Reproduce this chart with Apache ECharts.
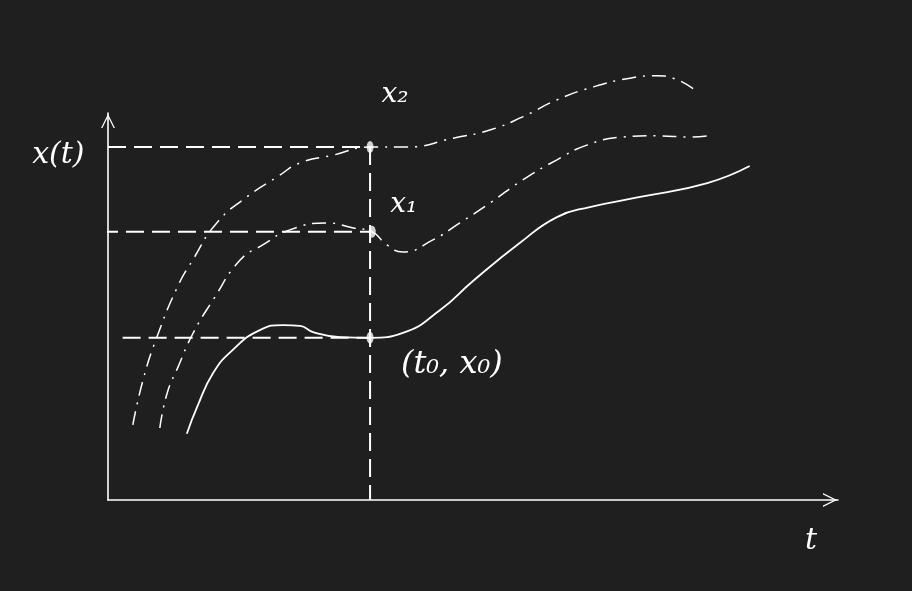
<!DOCTYPE html>
<html>
<head>
<meta charset="utf-8">
<script src="https://cdn.jsdelivr.net/npm/echarts@6/dist/echarts.min.js"></script>
<style>
html,body{margin:0;padding:0;background:#1f1f1f;}
#chart{width:912px;height:591px;}
</style>
</head>
<body>
<div id="chart"></div>
<script>
// ---- data (t, x) ----
var curveX0 = [[1.08,1.71],[1.22,2.40],[1.44,3.28],[1.71,3.88],[2.08,4.39],[2.40,4.52],[2.63,4.50],[2.81,4.34],[3.18,4.21],[3.59,4.19],[4.04,4.32],[4.55,4.91],[5.00,5.66],[5.64,6.64],[6.15,7.31],[6.60,7.57],[7.29,7.83],[8.21,8.19],[8.79,8.63]];
var curveX1 = [[0.71,1.86],[0.81,2.76],[0.96,3.44],[1.16,4.29],[1.44,5.17],[1.81,6.20],[2.12,6.59],[2.49,6.98],[3.00,7.16],[3.36,7.03],[3.62,6.93],[3.82,6.59],[4.04,6.41],[4.45,6.72],[4.82,7.16],[5.23,7.67],[5.68,8.27],[6.15,8.79],[6.56,9.17],[7.05,9.38],[7.52,9.41],[7.97,9.38],[8.29,9.43]];
var curveX2 = [[0.34,1.94],[0.48,3.10],[0.67,4.21],[0.95,5.50],[1.16,6.20],[1.49,7.16],[1.90,7.83],[2.32,8.35],[2.63,8.71],[3.08,8.91],[3.59,9.12],[4.10,9.12],[4.73,9.35],[5.23,9.56],[5.68,9.90],[6.15,10.34],[6.64,10.67],[7.15,10.90],[7.52,10.96],[7.74,10.90],[8.08,10.54]];
var t0 = 3.59;
var levelX0 = 4.19, levelX1 = 6.93, levelX2 = 9.12;
var guideX0 = [[0.2, levelX0],[t0, levelX0]];
var guideX1 = [[-0.11, levelX1],[t0, levelX1]];
var guideX2 = [[0.0, levelX2],[t0, levelX2]];
var guideT0 = [[t0, levelX2],[t0, 0]];
var dots = [[t0, levelX2],[3.62, levelX1],[t0, levelX0]];
var labelTexts = ['x(t)', 'x\u2082', 'x\u2081', '(t\u2080, x\u2080)', 't'];
var labelAnchors = [[-0.68,8.91],[3.93,10.47],[4.05,7.62],[4.71,3.49],[9.63,-1.06]];
var labelSizes = [30, 28, 28, 32, 30];

var chart = echarts.init(document.getElementById('chart'), null, {renderer:'canvas'});
var white = '#ffffff';
var dashed = {color: white, width: 2, type: [18, 8]};
var dashDot = {color: white, width: 1.5, type: [14, 7, 2, 7]};
var arrowPath = 'path://M0,10 L5,0 L10,10 L9,10 L5,2 L1,10 Z';

function guide(d){
  return {type:'line', data:d, symbol:'none', clip:false, silent:true, lineStyle:dashed, z:2};
}
var axisLineCfg = {show:true, lineStyle:{color:white, width:1.6}, symbol:['none', arrowPath], symbolSize:[14,20], symbolOffset:[0,-8]};
var option = {
  backgroundColor: '#1f1f1f',
  animation: false,
  grid: {left:108, right:74, top:113, bottom:91},
  xAxis: {type:'value', min:0, max:10, axisLine:axisLineCfg,
    axisTick:{show:false}, axisLabel:{show:false}, splitLine:{show:false}},
  yAxis: {type:'value', min:0, max:10, axisLine:axisLineCfg,
    axisTick:{show:false}, axisLabel:{show:false}, splitLine:{show:false}},
  series: [
    guide(guideX0), guide(guideX1), guide(guideX2), guide(guideT0),
    {type:'line', data:curveX0, smooth:0.5, symbol:'none', clip:false, lineStyle:{color:white, width:1.8}, z:3},
    {type:'line', data:curveX1, smooth:0.5, symbol:'none', clip:false, lineStyle:dashDot, z:3},
    {type:'line', data:curveX2, smooth:0.5, symbol:'none', clip:false, lineStyle:dashDot, z:3},
    {type:'scatter', data:dots, symbol:'circle', symbolSize:[7,12], itemStyle:{color:white}, z:4}
  ]
};
chart.setOption(option);

var g = [];
for (var i = 0; i < labelTexts.length; i++) {
  var p = chart.convertToPixel({gridIndex:0}, labelAnchors[i]);
  g.push({type:'text', x:p[0], y:p[1], style:{text:labelTexts[i], fill:white,
    font:'italic ' + labelSizes[i] + 'px "DejaVu Serif"', align:'center', verticalAlign:'middle'}});
}
chart.setOption({graphic: g});
</script>
</body>
</html>
